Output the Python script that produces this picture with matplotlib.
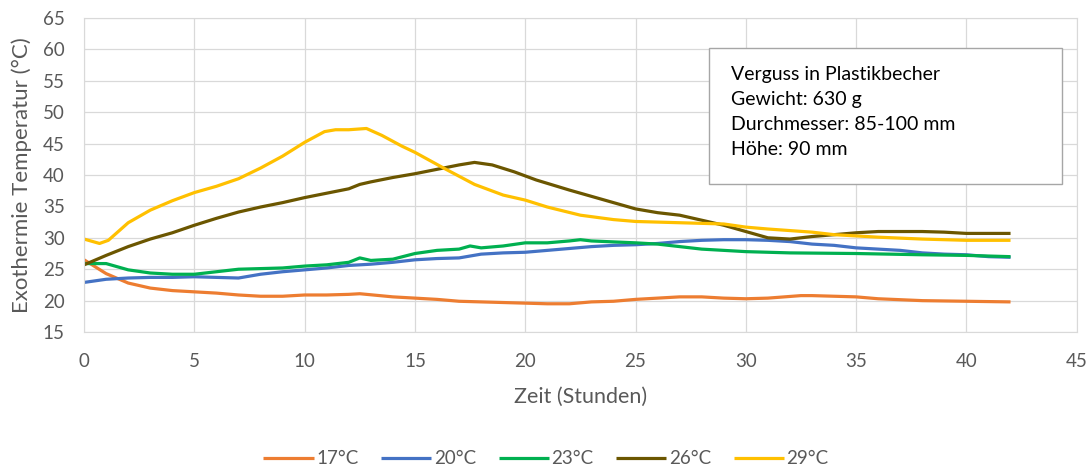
import matplotlib
matplotlib.use("Agg")
import matplotlib.pyplot as plt
from matplotlib.patches import Rectangle

plt.rcParams["font.family"] = ["Lato", "DejaVu Sans"]

# time in hours and temperature readings, per casting temperature
t_17 = [0, 1, 2, 3, 4, 5, 6, 7, 8, 9, 10, 11, 12, 12.5, 14, 15, 16, 17, 18, 19, 20, 21, 22, 23,
        24, 25, 26, 27, 28, 29, 30, 31, 32.5, 33, 35, 36, 38, 40, 42]
y_17 = [26.5, 24.3, 22.8, 22.0, 21.6, 21.4, 21.2, 20.9, 20.7, 20.7, 20.9, 20.9, 21.0, 21.1, 20.6,
        20.4, 20.2, 19.9, 19.8, 19.7, 19.6, 19.5, 19.5, 19.8, 19.9, 20.2, 20.4, 20.6, 20.6, 20.4,
        20.3, 20.4, 20.8, 20.8, 20.6, 20.3, 20.0, 19.9, 19.8]

t_20 = [0, 1, 2, 3, 4, 5, 6, 7, 8, 9, 10, 11, 12, 13, 14, 15, 16, 17, 18, 19, 20, 21, 22, 23, 24,
        25, 26, 27, 28, 29, 30, 31, 32, 33, 34, 35, 36, 37, 38, 39, 40, 41, 42]
y_20 = [22.9, 23.4, 23.6, 23.7, 23.7, 23.8, 23.7, 23.6, 24.2, 24.6, 24.9, 25.2, 25.6, 25.8, 26.1,
        26.5, 26.7, 26.8, 27.4, 27.6, 27.7, 28.0, 28.3, 28.6, 28.8, 28.9, 29.1, 29.4, 29.6, 29.7,
        29.7, 29.6, 29.4, 29.0, 28.8, 28.4, 28.2, 28.0, 27.6, 27.4, 27.3, 27.0, 26.9]

t_23 = [0, 1, 2, 3, 4, 5, 6, 7, 8, 9, 10, 11, 12, 12.5, 13, 14, 15, 16, 17, 17.5, 18, 19, 20, 21,
        22, 22.5, 23, 25, 26, 27, 28, 29, 30, 32, 35, 38, 40, 42]
y_23 = [25.9, 25.9, 24.9, 24.4, 24.2, 24.2, 24.6, 25.0, 25.1, 25.2, 25.5, 25.7, 26.1, 26.8, 26.4,
        26.6, 27.5, 28.0, 28.2, 28.7, 28.4, 28.7, 29.2, 29.2, 29.5, 29.7, 29.5, 29.2, 29.0, 28.6,
        28.2, 28.0, 27.8, 27.6, 27.5, 27.3, 27.2, 27.0]

t_26 = [0, 1, 2, 3, 4, 5, 6, 7, 8, 9, 10, 11, 12, 12.5, 13, 14, 15, 16, 17, 17.7, 18.5, 19.5, 20.5,
        22, 23.5, 25, 26, 27, 28, 29, 30, 31, 32, 33, 34, 35, 36, 38, 39, 40, 42]
y_26 = [25.7, 27.2, 28.6, 29.8, 30.8, 32.0, 33.1, 34.1, 34.9, 35.6, 36.4, 37.1, 37.8, 38.5, 38.9,
        39.6, 40.2, 40.9, 41.6, 42.0, 41.6, 40.5, 39.2, 37.6, 36.1, 34.6, 34.0, 33.6, 32.8, 32.0,
        31.0, 30.0, 29.8, 30.2, 30.5, 30.8, 31.0, 31.0, 30.9, 30.7, 30.7]

t_29 = [0, 0.7, 1.1, 2, 3, 4, 5, 6, 7, 8, 9, 10, 10.9, 11.4, 12, 12.8, 13.5, 14.4, 15, 16.3, 17.7,
        19, 20, 21, 22.5, 24, 25, 27, 29, 30, 31, 33, 34, 36, 38, 40, 42]
y_29 = [29.8, 29.1, 29.6, 32.4, 34.4, 35.9, 37.2, 38.2, 39.4, 41.1, 43.0, 45.2, 46.9, 47.2, 47.2,
        47.4, 46.3, 44.6, 43.6, 41.1, 38.5, 36.8, 36.0, 34.9, 33.6, 32.9, 32.6, 32.4, 32.2, 31.7,
        31.4, 30.9, 30.5, 30.1, 29.8, 29.6, 29.6]

labels = ["17°C", "20°C", "23°C", "26°C", "29°C"]
colors = ["#ED7D31", "#4472C4", "#00B050", "#6B5600", "#FFC000"]
series = [(t_17, y_17), (t_20, y_20), (t_23, y_23), (t_26, y_26), (t_29, y_29)]

info_lines = ["Verguss in Plastikbecher", "Gewicht: 630 g",
              "Durchmesser: 85-100 mm", "Höhe: 90 mm"]

GRID = "#D9D9D9"
TXT = "#595959"

fig = plt.figure(figsize=(10.92, 4.71), dpi=100)
ax = fig.add_axes([0.077, 0.295, 0.909, 0.667])

for (t, y), lab, c in zip(series, labels, colors):
    ax.plot(t, y, color=c, lw=2.3, label=lab, solid_capstyle="butt")

ax.set_xlim(0, 45)
ax.set_ylim(15, 65)
ax.set_xticks(range(0, 46, 5))
ax.set_yticks(range(15, 66, 5))
ax.grid(True, color=GRID, lw=0.9)
ax.set_axisbelow(True)
for s in ax.spines.values():
    s.set_color(GRID)
ax.tick_params(length=0, colors=TXT, labelsize=13.5)
ax.tick_params(axis="x", pad=15)
ax.tick_params(axis="y", pad=14)
ax.set_xlabel("Zeit (Stunden)", color=TXT, fontsize=15.5, labelpad=12)
ax.set_ylabel("Exothermie Temperatur (°C)", color=TXT, fontsize=16, labelpad=8)

# info box
ax.add_patch(Rectangle((0.630, 0.471), 0.3555, 0.433, transform=ax.transAxes,
                       facecolor="white", edgecolor="#A6A6A6", lw=1.0, zorder=5))
ax.text(0.652, 0.848, "\n".join(info_lines), transform=ax.transAxes, va="top", ha="left",
        fontsize=14, color="black", linespacing=1.58, zorder=6)

fig.legend(loc="center", bbox_to_anchor=(0.5, 0.026), ncol=5, frameon=False,
           fontsize=13.5, labelcolor=TXT, handlelength=2.67, handletextpad=0.15,
           columnspacing=1.2)

fig.savefig("out.png", dpi=100)
